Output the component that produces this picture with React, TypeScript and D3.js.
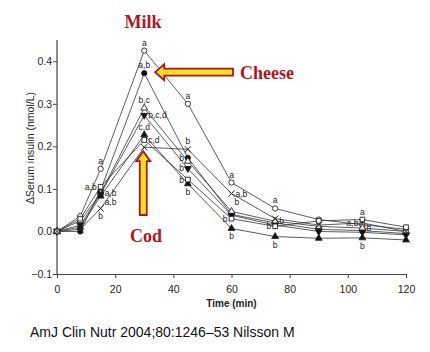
import React, { useEffect, useRef } from "react";
import * as d3 from "d3";

// sampling times (min)
const times = [0, 8, 15, 30, 45, 60, 75, 90, 105, 120];

// serum insulin change (nmol/L) per test meal
const milk = [0, 0.036, 0.147, 0.425, 0.3, 0.115, 0.054, 0.028, 0.016, 0.005];
const cheese = [0, 0.0, 0.097, 0.372, 0.173, 0.04, 0.02, 0.005, 0.002, -0.005];
const openTri = [0, 0.025, 0.09, 0.29, 0.165, 0.047, 0.024, 0.012, 0.008, 0.0];
const downTri = [0, 0.015, 0.088, 0.273, 0.148, 0.038, 0.015, 0.0, -0.002, -0.008];
const filledTri = [0, 0.01, 0.083, 0.227, 0.112, 0.007, -0.012, -0.016, -0.015, -0.02];
const openSquare = [0, 0.03, 0.105, 0.215, 0.122, 0.03, 0.012, 0.025, 0.028, 0.01];
const cod = [0, 0.005, 0.054, 0.198, 0.193, 0.089, 0.03, 0.015, 0.02, 0.0];

const xTicks = [0, 20, 40, 60, 80, 100, 120];
const yTicks = [-0.1, 0.0, 0.1, 0.2, 0.3, 0.4];

// significance letters: [series, time index, text, side]
const letters: [string, number, string, string][] = [
  ["milk", 2, "a", "above"],
  ["openSquare", 2, "a,b", "left"],
  ["openTri", 2, "a,b", "right"],
  ["downTri", 2, "a,b", "rightLow"],
  ["cod", 2, "b", "below"],
  ["milk", 3, "a", "above"],
  ["cheese", 3, "a,b", "above"],
  ["openTri", 3, "b,c", "above"],
  ["downTri", 3, "b,c,d", "right"],
  ["filledTri", 3, "c,d", "above"],
  ["openSquare", 3, "c,d", "right"],
  ["milk", 4, "a", "above"],
  ["cod", 4, "b", "above"],
  ["cheese", 4, "b", "left"],
  ["downTri", 4, "b", "left"],
  ["openSquare", 4, "b", "left"],
  ["filledTri", 4, "b", "below"],
  ["milk", 5, "a", "above"],
  ["cod", 5, "a,b", "right"],
  ["openTri", 5, "b", "aboveRight"],
  ["openSquare", 5, "b", "left"],
  ["filledTri", 5, "b", "below"],
  ["milk", 6, "a", "above"],
  ["openTri", 6, "b", "right"],
  ["openSquare", 6, "b", "left"],
  ["filledTri", 6, "b", "below"],
  ["openSquare", 8, "a", "above"],
  ["cod", 8, "a,b", "left"],
  ["openTri", 8, "b", "right"],
  ["filledTri", 8, "b", "below"],
];

const series = [
  { key: "milk", values: milk, marker: "circle", fill: "#fff" },
  { key: "cheese", values: cheese, marker: "circle", fill: "#111" },
  { key: "openTri", values: openTri, marker: "triangle", fill: "#fff" },
  { key: "downTri", values: downTri, marker: "down", fill: "#111" },
  { key: "filledTri", values: filledTri, marker: "triangle", fill: "#111" },
  { key: "openSquare", values: openSquare, marker: "square", fill: "#fff" },
  { key: "cod", values: cod, marker: "cross", fill: "none" },
];

const W = 430;
const H = 352;
const margin = { left: 57, right: 24, top: 40, bottom: 78 };
const RED = "#b3121f";

export default function App() {
  const ref = useRef<SVGSVGElement | null>(null);

  useEffect(() => {
    const svg = d3.select(ref.current);
    svg.selectAll("*").remove();

    const x = d3.scaleLinear().domain([0, 120]).range([margin.left, W - margin.right]);
    const y = d3.scaleLinear().domain([-0.1, 0.45]).range([H - margin.bottom, margin.top]);

    // axes
    const gx = svg.append("g")
      .attr("transform", `translate(0,${H - margin.bottom})`)
      .call(d3.axisBottom(x).tickValues(xTicks).tickSize(4).tickSizeOuter(0));
    const gy = svg.append("g")
      .attr("transform", `translate(${margin.left},0)`)
      .call(d3.axisLeft(y).tickValues(yTicks).tickFormat(d3.format(".1f")).tickSize(4).tickSizeOuter(0));
    [gx, gy].forEach(g => {
      g.selectAll("text").attr("font-family", "Liberation Sans, Arial, sans-serif").attr("font-size", 10.5).attr("fill", "#222");
      g.selectAll("line").attr("stroke", "#444");
      g.select(".domain").attr("stroke", "#444").attr("stroke-width", 1.2);
    });
    gx.selectAll("text").attr("dy", "1.1em");
    gy.selectAll("text").attr("x", -5);
    gy.select(".domain").attr("d", `M0,${y(-0.1)}V${margin.top}`);

    svg.append("text")
      .attr("x", (x(0) + x(120)) / 2).attr("y", 307)
      .attr("text-anchor", "middle")
      .attr("font-family", "Liberation Sans, Arial, sans-serif")
      .attr("font-weight", "bold").attr("font-size", 10).attr("fill", "#222")
      .text("Time (min)");

    svg.append("text")
      .attr("transform", `translate(34,${(y(-0.1) + y(0.45)) / 2 - 9}) rotate(-90)`)
      .attr("text-anchor", "middle")
      .attr("font-family", "Liberation Sans, Arial, sans-serif")
      .attr("font-size", 10.5).attr("fill", "#222")
      .text("\u0394Serum insulin (nmol/L)");

    // lines
    const line = d3.line<number>()
      .x((_, i) => x(times[i]))
      .y(d => y(d));

    series.forEach(s => {
      svg.append("path")
        .datum(s.values)
        .attr("fill", "none")
        .attr("stroke", "#333")
        .attr("stroke-width", 0.8)
        .attr("d", line);
    });

    // markers
    const sym: Record<string, d3.SymbolType> = {
      circle: d3.symbolCircle,
      triangle: d3.symbolTriangle,
      square: d3.symbolSquare,
      cross: d3.symbolX,
    };
    series.forEach(s => {
      s.values.forEach((v, i) => {
        const cx = x(times[i]);
        const cy = y(v);
        const g = svg.append("path")
          .attr("stroke", "#222")
          .attr("stroke-width", s.marker === "cross" ? 1 : 0.9)
          .attr("fill", s.fill);
        if (s.marker === "down") {
          g.attr("d", d3.symbol(d3.symbolTriangle, 20)())
            .attr("transform", `translate(${cx},${cy}) rotate(180)`);
        } else {
          const size = s.marker === "cross" ? 26 : s.marker === "triangle" ? 20 : 22;
          g.attr("d", d3.symbol(sym[s.marker], size)())
            .attr("transform", `translate(${cx},${cy})`);
        }
      });
    });

    // significance letters
    const byKey: Record<string, number[]> = {};
    series.forEach(s => (byKey[s.key] = s.values));
    letters.forEach(([k, i, t, side]) => {
      const px = x(times[i]);
      const py = y(byKey[k][i]);
      let dx = 0, dy = 0, anchor = "middle";
      if (side === "above") { dy = -5; }
      else if (side === "below") { dy = 11; }
      else if (side === "left") { dx = -4; dy = 3; anchor = "end"; }
      else if (side === "right") { dx = 4; dy = 3; anchor = "start"; }
      else if (side === "rightLow") { dx = 4; dy = 11; anchor = "start"; }
      else if (side === "aboveRight") { dx = 3; dy = -6; anchor = "start"; }
      svg.append("text")
        .attr("x", px + dx).attr("y", py + dy)
        .attr("text-anchor", anchor)
        .attr("font-family", "Liberation Sans, Arial, sans-serif")
        .attr("font-size", 8.5).attr("fill", "#222")
        .text(t);
    });

    // callout arrows
    const cheeseTip = [x(30) + 11, y(0.372) - 1];
    const ch = d3.path();
    ch.moveTo(cheeseTip[0], cheeseTip[1]);
    ch.lineTo(cheeseTip[0] + 9, cheeseTip[1] - 8);
    ch.lineTo(cheeseTip[0] + 9, cheeseTip[1] - 3.5);
    ch.lineTo(233, cheeseTip[1] - 3.5);
    ch.lineTo(233, cheeseTip[1] + 3.5);
    ch.lineTo(cheeseTip[0] + 9, cheeseTip[1] + 3.5);
    ch.lineTo(cheeseTip[0] + 9, cheeseTip[1] + 8);
    ch.closePath();
    svg.append("path").attr("d", ch.toString())
      .attr("fill", "#f6e21a").attr("stroke", RED).attr("stroke-width", 1.8);

    const codTip = [x(30) - 1, y(0.198) + 4];
    const cd = d3.path();
    cd.moveTo(codTip[0], codTip[1]);
    cd.lineTo(codTip[0] + 7, codTip[1] + 10);
    cd.lineTo(codTip[0] + 3.5, codTip[1] + 10);
    cd.lineTo(codTip[0] + 3.5, 215);
    cd.lineTo(codTip[0] - 3.5, 215);
    cd.lineTo(codTip[0] - 3.5, codTip[1] + 10);
    cd.lineTo(codTip[0] - 7, codTip[1] + 10);
    cd.closePath();
    svg.append("path").attr("d", cd.toString())
      .attr("fill", "#f6e21a").attr("stroke", RED).attr("stroke-width", 1.8);

    const label = (t: string, lx: number, ly: number, anchor = "middle") =>
      svg.append("text")
        .attr("x", lx).attr("y", ly)
        .attr("text-anchor", anchor)
        .attr("font-family", "Liberation Serif, Times New Roman, serif")
        .attr("font-weight", "bold").attr("font-size", 18).attr("fill", RED)
        .text(t);
    label("Milk", 143, 28);
    label("Cheese", 240, 79, "start");
    label("Cod", 146, 242);

    svg.append("text")
      .attr("x", 30).attr("y", 337)
      .attr("font-family", "Liberation Sans, Arial, sans-serif")
      .attr("font-size", 14).attr("fill", "#111")
      .text("AmJ Clin Nutr 2004;80:1246\u201353 Nilsson M");
  }, []);

  return (
    <svg
      ref={ref}
      width={W}
      height={H}
      style={{ position: "absolute", left: 0, top: 0, background: "#fff" }}
    />
  );
}
